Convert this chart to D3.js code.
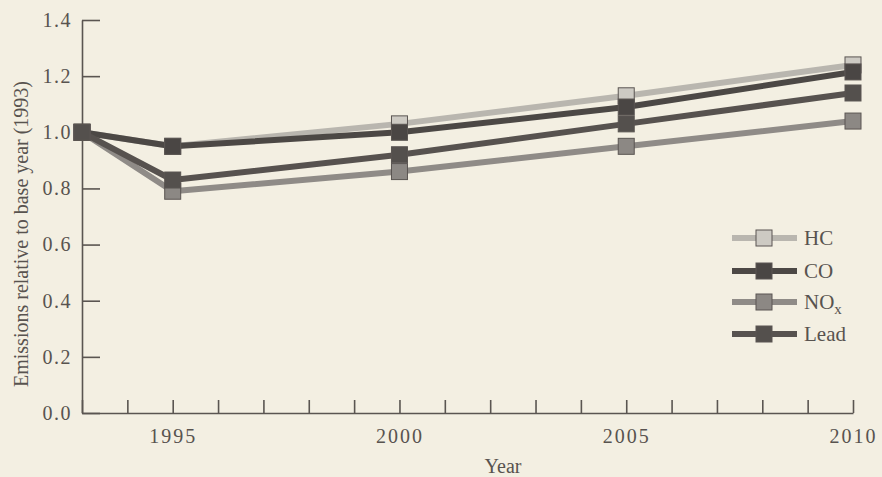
<!DOCTYPE html>
<html><head><meta charset="utf-8">
<script src="https://cdn.jsdelivr.net/npm/d3@7"></script>
<style>
html,body{margin:0;padding:0;background:#f3efe2;}
svg{display:block;}
text{font-family:"Liberation Serif","Times New Roman",serif;fill:#58534f;}
</style></head><body>
<svg id="chart" width="882" height="477"></svg>
<script>
const years = [1993, 1995, 2000, 2005, 2010];
const seriesNames = ["HC", "CO", "NOx", "Lead"];
const hcValues = [1.00, 0.95, 1.03, 1.13, 1.24];
const coValues = [1.00, 0.95, 1.00, 1.09, 1.215];
const noxValues = [1.00, 0.79, 0.86, 0.95, 1.04];
const leadValues = [1.00, 0.83, 0.92, 1.03, 1.14];
const yTicks = [0.0, 0.2, 0.4, 0.6, 0.8, 1.0, 1.2, 1.4];
const xTickYears = d3.range(1993, 2011);
const xLabelYears = [1995, 2000, 2005, 2010];

const styles = {
  HC:   {line:"#b9b6af", fill:"#cdcac3"},
  CO:   {line:"#4c4845", fill:"#4a4644"},
  NOx:  {line:"#8f8b87", fill:"#8c8884"},
  Lead: {line:"#57524f", fill:"#54504d"}
};
const dataMap = {HC: hcValues, CO: coValues, NOx: noxValues, Lead: leadValues};
const drawOrder = ["HC", "NOx", "CO", "Lead"];

const svg = d3.select("#chart");
const x = d3.scaleLinear().domain([1993, 2010]).range([82, 853]);
const y = d3.scaleLinear().domain([0, 1.4]).range([413, 20]);
const axisColor = "#5a5551";

// Y axis
const gy = svg.append("g").attr("transform", "translate(82,0)")
  .call(d3.axisLeft(y).tickValues(yTicks).tickFormat(d3.format(".1f"))
    .tickSizeInner(-18).tickSizeOuter(0).tickPadding(10));
gy.select(".domain").attr("stroke", axisColor).attr("stroke-width", 1.6);
gy.selectAll(".tick line").attr("stroke", axisColor).attr("stroke-width", 1.6);
gy.selectAll(".tick text").attr("font-size", 20).attr("font-family", "Liberation Serif")
  .attr("fill", "#58534f").attr("letter-spacing", 1.5);

// X axis
const gx = svg.append("g").attr("transform", "translate(0,413)")
  .call(d3.axisBottom(x).tickValues(xTickYears)
    .tickFormat(d => xLabelYears.includes(d) ? String(d) : "")
    .tickSizeInner(-13).tickSizeOuter(0).tickPadding(16));
gx.select(".domain").attr("stroke", axisColor).attr("stroke-width", 1.6);
gx.selectAll(".tick line").attr("stroke", axisColor).attr("stroke-width", 1.6);
gx.selectAll(".tick text").attr("font-size", 20).attr("font-family", "Liberation Serif")
  .attr("fill", "#58534f").attr("letter-spacing", 2);

// Axis titles
svg.append("text").attr("transform", "translate(28,234) rotate(-90)")
  .attr("text-anchor", "middle").attr("font-size", 20)
  .text("Emissions relative to base year (1993)");
svg.append("text").attr("x", 503).attr("y", 473)
  .attr("text-anchor", "middle").attr("font-size", 20).text("Year");

// Series
const line = d3.line().x(d => x(d.year)).y(d => y(d.value));
const ms = 16;
drawOrder.forEach(name => {
  const pts = years.map((yr, i) => ({year: yr, value: dataMap[name][i]}));
  svg.append("path").datum(pts).attr("d", line)
    .attr("fill", "none").attr("stroke", styles[name].line)
    .attr("stroke-width", 6).attr("stroke-linejoin", "round");
});
drawOrder.forEach(name => {
  const pts = years.map((yr, i) => ({year: yr, value: dataMap[name][i]}));
  svg.selectAll(null).data(pts).enter().append("rect")
    .attr("x", d => x(d.year) - ms / 2).attr("y", d => y(d.value) - ms / 2)
    .attr("width", ms).attr("height", ms)
    .attr("fill", styles[name].fill).attr("stroke", "#5a5552").attr("stroke-width", 1);
});

// Legend
const legendY = [238, 271, 302, 334];
seriesNames.forEach((name, i) => {
  const g = svg.append("g").attr("transform", `translate(0,${legendY[i]})`);
  g.append("line").attr("x1", 732).attr("x2", 797).attr("y1", 0).attr("y2", 0)
    .attr("stroke", styles[name].line).attr("stroke-width", 6);
  g.append("rect").attr("x", 764 - ms / 2).attr("y", -ms / 2).attr("width", ms).attr("height", ms)
    .attr("fill", styles[name].fill).attr("stroke", "#5a5552").attr("stroke-width", 1);
  const t = g.append("text").attr("x", 804).attr("y", 7).attr("font-size", 21);
  if (name === "NOx") {
    t.append("tspan").text("NO");
    t.append("tspan").attr("font-size", 15).attr("dy", 5).text("x");
  } else {
    t.text(name);
  }
});
</script>
</body></html>
